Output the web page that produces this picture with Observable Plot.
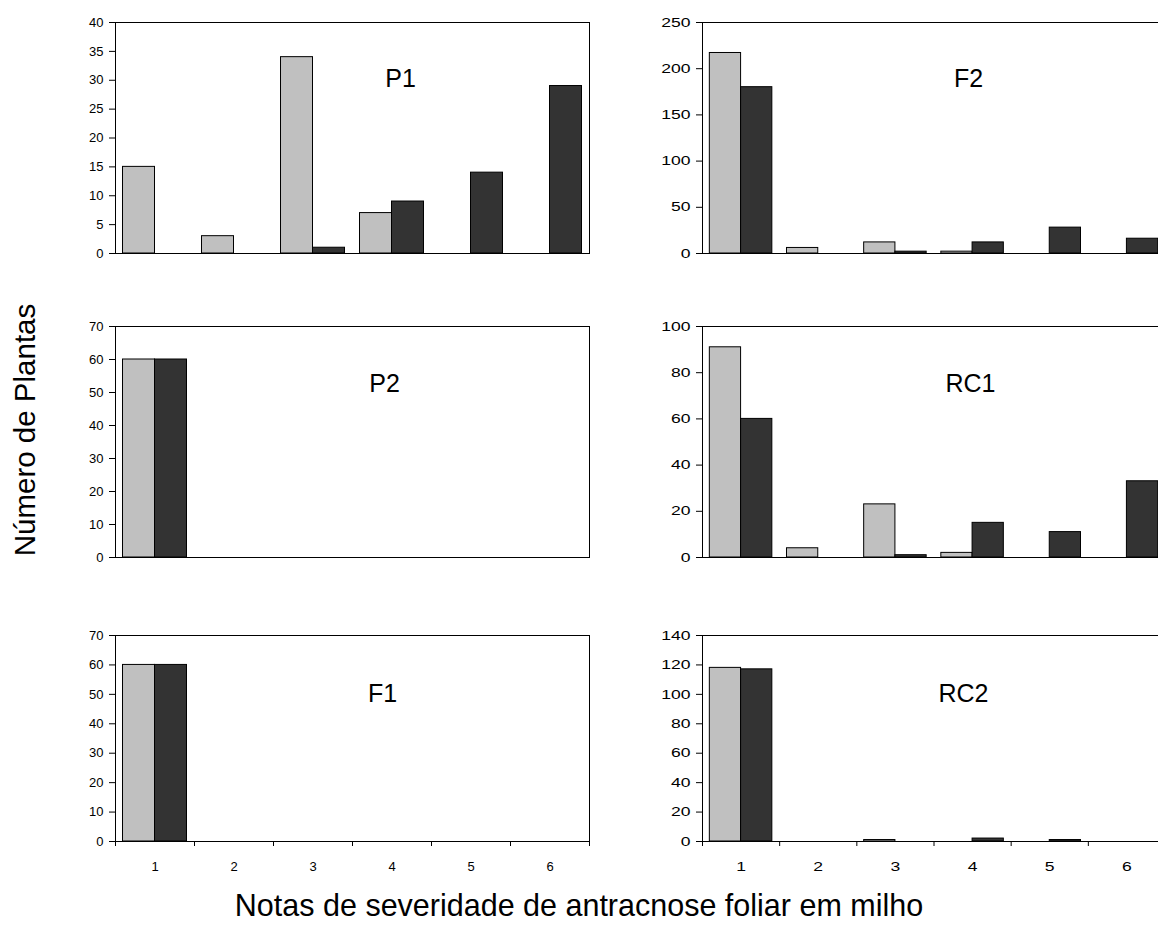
<!DOCTYPE html>
<html>
<head>
<meta charset="utf-8">
<script src="https://cdn.jsdelivr.net/npm/d3@7"></script>
<script src="https://cdn.jsdelivr.net/npm/@observablehq/plot@0.6"></script>
<style>
  html, body { margin: 0; padding: 0; background: #fff; overflow: hidden; }
  #wrap { position: relative; width: 1158px; height: 936px; overflow: hidden; font-family: "Liberation Sans", Arial, sans-serif; }
  .panel { position: absolute; }
  .ytitle { position: absolute; left: 25px; top: 430px; transform: translate(-50%, -50%) rotate(-90deg); font-size: 29.5px; white-space: nowrap; color: #000; }
  .xtitle { position: absolute; left: 579px; top: 905px; transform: translate(-50%, -50%); font-size: 30.5px; white-space: nowrap; color: #000; }
</style>
</head>
<body>
<div id="wrap">
  <div class="ytitle">Número de Plantas</div>
  <div class="xtitle">Notas de severidade de antracnose foliar em milho</div>
</div>
<script>
// Categories (severity scores)
const categories = [1, 2, 3, 4, 5, 6];

// Panel names
const panelNames = ["P1", "F2", "P2", "RC1", "F1", "RC2"];

// Series values (light = first series, dark = second series)
const p1Light  = [15, 3, 34, 7, 0, 0];
const p1Dark   = [0, 0, 1, 9, 14, 29];
const f2Light  = [217, 6, 12, 2, 0, 0];
const f2Dark   = [180, 0, 2, 12, 28, 16];
const p2Light  = [60, 0, 0, 0, 0, 0];
const p2Dark   = [60, 0, 0, 0, 0, 0];
const rc1Light = [91, 4, 23, 2, 0, 0];
const rc1Dark  = [60, 0, 1, 15, 11, 33];
const f1Light  = [60, 0, 0, 0, 0, 0];
const f1Dark   = [60, 0, 0, 0, 0, 0];
const rc2Light = [118, 0, 1, 0, 0, 0];
const rc2Dark  = [117, 0, 0, 2, 1, 0];

// Y tick labels per panel
const p1Ticks  = [0, 5, 10, 15, 20, 25, 30, 35, 40];
const f2Ticks  = [0, 50, 100, 150, 200, 250];
const p2Ticks  = [0, 10, 20, 30, 40, 50, 60, 70];
const rc1Ticks = [0, 20, 40, 60, 80, 100];
const f1Ticks  = [0, 10, 20, 30, 40, 50, 60, 70];
const rc2Ticks = [0, 20, 40, 60, 80, 100, 120, 140];

// Layout (style, not data)
const LIGHT = "#c0c0c0", DARK = "#333333";
const BAR = 0.405; // bar width as a fraction of the category band
const cols = {
  left:  {left: 0,   width: 600, marginLeft: 115, marginRight: 11, stretch: 1},
  right: {left: 600, width: 570, marginLeft: 102, marginRight: 5, stretch: 1.35}
};
const rows = [
  {top: 0,   height: 270, marginTop: 22, marginBottom: 17, xAxis: false},
  {top: 300, height: 270, marginTop: 26, marginBottom: 13, xAxis: false},
  {top: 600, height: 300, marginTop: 35, marginBottom: 59, xAxis: true}
];

const panels = [
  {name: panelNames[0], light: p1Light,  dark: p1Dark,  ticks: p1Ticks,  col: "left",  row: 0, lx: 285, ly: 56, ls: 0},
  {name: panelNames[1], light: f2Light,  dark: f2Dark,  ticks: f2Ticks,  col: "right", row: 0, lx: 266, ly: 56, ls: 2},
  {name: panelNames[2], light: p2Light,  dark: p2Dark,  ticks: p2Ticks,  col: "left",  row: 1, lx: 269, ly: 57, ls: 0},
  {name: panelNames[3], light: rc1Light, dark: rc1Dark, ticks: rc1Ticks, col: "right", row: 1, lx: 268, ly: 57, ls: 3},
  {name: panelNames[4], light: f1Light,  dark: f1Dark,  ticks: f1Ticks,  col: "left",  row: 2, lx: 267, ly: 58, ls: 2},
  {name: panelNames[5], light: rc2Light, dark: rc2Dark, ticks: rc2Ticks, col: "right", row: 2, lx: 261, ly: 58, ls: 3}
];

const wrap = document.getElementById("wrap");

// tick label styling; the right-hand panels in the source are horizontally stretched
function styleTicks(svg, selector, k) {
  svg.querySelectorAll(selector).forEach(t => {
    t.style.fontSize = "13px";
    t.style.fontFamily = "'Liberation Sans', Arial, sans-serif";
    if (k === 1) return;
    const tr = t.getAttribute("transform");
    if (tr) {
      t.setAttribute("transform", tr + ` scale(${k},1)`);
    } else {
      const x = +t.getAttribute("x") || 0, y = +t.getAttribute("y") || 0;
      t.setAttribute("x", 0); t.setAttribute("y", 0);
      t.setAttribute("transform", `translate(${x},${y}) scale(${k},1)`);
    }
  });
}

for (const p of panels) {
  const c = cols[p.col], r = rows[p.row];
  const lightData = categories.map((cat, i) => ({cat, v: p.light[i]})).filter(d => d.v > 0);
  const darkData = categories.map((cat, i) => ({cat, v: p.dark[i]})).filter(d => d.v > 0);
  const ymax = p.ticks[p.ticks.length - 1];
  const edges = [categories[0] - 0.5, ...categories.map(c => c + 0.5)];
  const marks = [
    Plot.rectY(lightData, {x1: d => d.cat - BAR, x2: d => d.cat, y1: 0, y2: "v", fill: LIGHT, stroke: "#000", strokeWidth: 1}),
    Plot.rectY(darkData, {x1: d => d.cat, x2: d => d.cat + BAR, y1: 0, y2: "v", fill: DARK, stroke: "#000", strokeWidth: 1}),
    Plot.frame({stroke: "#000", strokeWidth: 1}),
    Plot.axisY(p.ticks, {tickSize: 6, tickPadding: 6, label: null, stroke: "#000", fill: "#000", fontSize: 13}),
    Plot.text([p.name], {text: d => d, frameAnchor: "top-left", dx: p.lx, dy: p.ly, fontSize: 25, textAnchor: "middle", lineAnchor: "middle", letterSpacing: p.ls, fill: "#000"})
  ];
  if (r.xAxis) {
    marks.push(Plot.axisX(edges, {tickSize: 5, tickFormat: () => "", label: null, stroke: "#000"}));
    marks.push(Plot.axisX(categories, {tickSize: 0, tickPadding: 20, label: null, fill: "#000", fontSize: 13}));
  }
  const chart = Plot.plot({
    width: c.width,
    height: r.height,
    marginLeft: c.marginLeft,
    marginRight: c.marginRight,
    marginTop: r.marginTop,
    marginBottom: r.marginBottom,
    x: {type: "linear", domain: [0.5, 6.5], axis: r.xAxis ? undefined : null},
    y: {domain: [0, ymax]},
    style: {fontFamily: "'Liberation Sans', Arial, sans-serif", fontSize: "13px", color: "#000", background: "transparent", overflow: "visible"},
    marks
  });
  styleTicks(chart, 'g[aria-label="y-axis tick label"] text', c.stretch);
  styleTicks(chart, 'g[aria-label="x-axis tick label"] text', c.stretch);
  chart.classList.add("panel");
  chart.style.left = c.left + "px";
  chart.style.top = r.top + "px";
  chart.style.position = "absolute";
  wrap.appendChild(chart);
}
</script>
</body>
</html>
